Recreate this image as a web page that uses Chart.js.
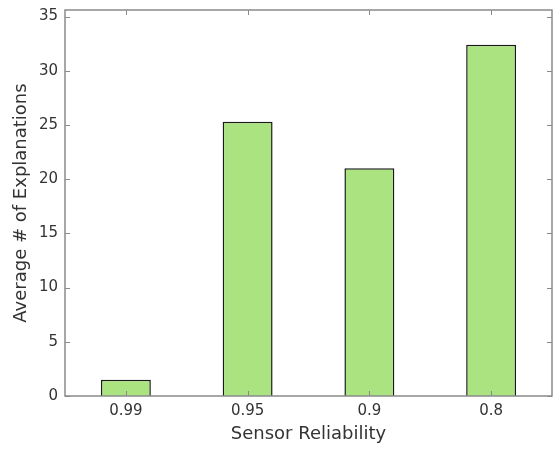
<!DOCTYPE html>
<html>
<head>
<meta charset="utf-8">
<script src="https://cdn.jsdelivr.net/npm/chart.js@4/dist/chart.umd.min.js"></script>
<style>
  html,body{margin:0;padding:0;background:#fff;}
  #wrap{width:557px;height:449px;}
</style>
</head>
<body>
<div id="wrap"><canvas id="c" width="557" height="449"></canvas></div>
<script>
// data
const categories = ['0.99','0.95','0.9','0.8'];
const avgExplanations = [1.5, 25.3, 21.0, 32.4];
const yTicks = [0,5,10,15,20,25,30,35];

const frameColor = '#8a8a8a';
const textColor = '#333333';
const font = {family:'DejaVu Sans', size:15};
const titleFont = {family:'DejaVu Sans', size:18};

// box + inward ticks on all four sides, like a matlab axes
const framePlugin = {
  id:'frame',
  afterDatasetsDraw(chart){
    const {ctx, chartArea:a, scales} = chart;
    const len = 5;
    ctx.save();
    ctx.strokeStyle = frameColor;
    ctx.lineWidth = 1.5;
    ctx.strokeRect(a.left, a.top, a.right-a.left, a.bottom-a.top);
    ctx.lineWidth = 1;
    ctx.beginPath();
    yTicks.forEach(v=>{
      const y = Math.round(scales.y.getPixelForValue(v))+0.5;
      ctx.moveTo(a.left, y); ctx.lineTo(a.left+len, y);
      ctx.moveTo(a.right, y); ctx.lineTo(a.right-len, y);
    });
    categories.forEach((c,i)=>{
      const x = Math.round(scales.x.getPixelForValue(i))+0.5;
      ctx.moveTo(x, a.top); ctx.lineTo(x, a.top+len);
      ctx.moveTo(x, a.bottom); ctx.lineTo(x, a.bottom-len);
    });
    ctx.stroke();
    ctx.restore();
  }
};

new Chart(document.getElementById('c').getContext('2d'), {
  type:'bar',
  data:{
    labels:categories,
    datasets:[{
      data:avgExplanations,
      backgroundColor:'#abe381',
      borderColor:'#1a1a1a',
      borderWidth:1.5,
      categoryPercentage:1,
      barPercentage:0.41
    }]
  },
  options:{
    responsive:false,
    animation:false,
    layout:{padding:{top:10,right:5,left:0,bottom:0}},
    plugins:{legend:{display:false}, tooltip:{enabled:false}},
    scales:{
      x:{
        grid:{display:false, drawTicks:false},
        border:{display:false},
        ticks:{color:textColor, font, padding:6},
        title:{display:true, text:'Sensor Reliability', color:textColor,
               font:titleFont, padding:{top:0,bottom:4}},
        afterFit(s){ s.height = 53; s.paddingLeft = 0; s.paddingRight = 0; }
      },
      y:{
        min:0, max:35.6,
        afterBuildTicks(s){ s.ticks = yTicks.map(v=>({value:v})); },
        grid:{display:false, drawTicks:false},
        border:{display:false},
        ticks:{color:textColor, font, padding:7},
        title:{display:true, text:'Average # of Explanations', color:textColor,
               font:titleFont, padding:{top:11,bottom:0}},
        afterFit(s){ s.width = 65; s.paddingTop = 0; s.paddingBottom = 0; }
      }
    }
  },
  plugins:[framePlugin]
});
</script>
</body>
</html>
